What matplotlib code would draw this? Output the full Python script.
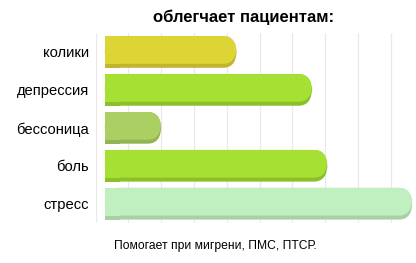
import matplotlib
matplotlib.use("Agg")
import matplotlib.pyplot as plt
from matplotlib.patches import FancyBboxPatch, Rectangle

categories = ["колики", "депрессия", "бессоница", "боль", "стресс"]
values = [4.3, 6.6, 2.0, 7.07, 9.66]
colors = ["#DDD535", "#A5E033", "#ABCF63", "#A5E033", "#C0EFC0"]
shadows = ["#C2B42E", "#8CC02A", "#94B352", "#8CC02A", "#A9CFA9"]
title = "облегчает пациентам:"
footer = "Помогает при мигрени, ПМС, ПТСР."

plt.rcParams["font.family"] = ["Liberation Sans", "DejaVu Sans"]

W, H = 416, 263
fig = plt.figure(figsize=(W / 100, H / 100), dpi=100)
ax_l, ax_r, ax_t, ax_b = 95.7, 416, 33, 222.7
ax = fig.add_axes([ax_l / W, 1 - ax_b / H, (ax_r - ax_l) / W, (ax_b - ax_t) / H])

xmax = 9.77
ax.set_xlim(0, xmax)
ax.set_ylim(4.5, -0.5)
px_x = (ax_r - ax_l) / xmax        # pixels per x unit
px_y = (ax_b - ax_t) / 5            # pixels per y unit
aspect = px_x / px_y

start = 0.28
bar_h = 0.835
shadow_h = 4 / px_y
r = 13.5 / px_x

for i, (v, c, s) in enumerate(zip(values, colors, shadows)):
    top = i - bar_h / 2
    for col, h in ((s, bar_h), (c, bar_h - shadow_h)):
        p = FancyBboxPatch((start, top), v - start, h,
                           boxstyle=f"round,pad=0,rounding_size={r}",
                           mutation_aspect=1 / aspect, fc=col, ec="none", zorder=3)
        ax.add_patch(p)
        ax.add_patch(Rectangle((start, top), r * 1.1, h, fc=col, ec="none", zorder=3))

for g in range(10):
    ax.axvline(g, color="#E9E9E9", lw=0.9, zorder=1)

ax.set_yticks(range(len(categories)))
ax.set_yticklabels(categories, fontsize=10.6)
ax.tick_params(axis="y", length=0, pad=5)
ax.set_xticks([])
for sp in ax.spines.values():
    sp.set_visible(False)

fig.text(244 / W, 1 - 17 / H, title, ha="center", va="center",
         fontsize=12, fontweight="heavy")
fig.text(215 / W, 1 - 245.5 / H, footer, ha="center", va="center", fontsize=8.7)

fig.savefig("out.png", dpi=100)
